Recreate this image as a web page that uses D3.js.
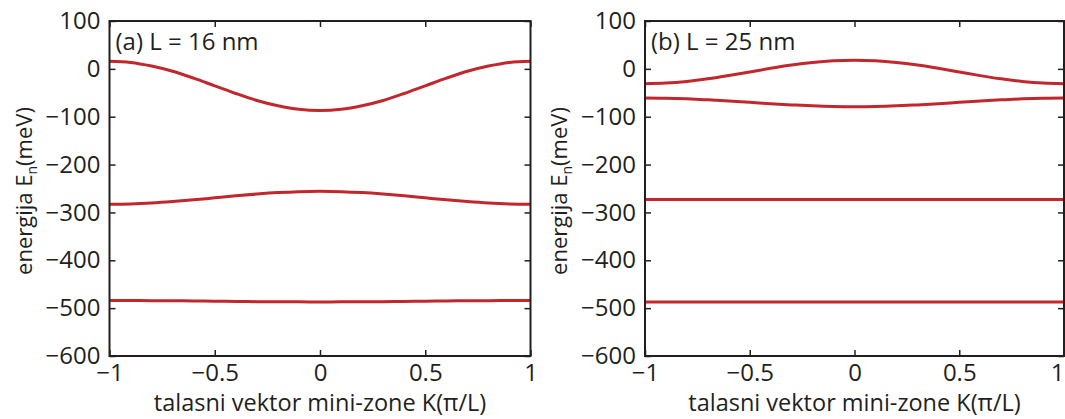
<!DOCTYPE html>
<html>
<head>
<meta charset="utf-8">
<script src="https://cdn.jsdelivr.net/npm/d3@7"></script>
<style>
  html, body { margin: 0; padding: 0; background: #fff; }
  svg { display: block; }
  text { font-family: "Open Sans", "Noto Sans", sans-serif; fill: #231f20; }
</style>
</head>
<body>
<svg id="chart" width="1065" height="419"></svg>
<script>
// ---- data ----
const K = [-1, -0.9, -0.8, -0.7, -0.6, -0.5, -0.4, -0.3, -0.2, -0.1, 0,
           0.1, 0.2, 0.3, 0.4, 0.5, 0.6, 0.7, 0.8, 0.9, 1];

// panel (a) L = 16 nm
const bandA1 = [16, 13.5, 6, -5, -19.5, -35.5, -51.5, -66, -77, -84.5, -87,
                -84.5, -77, -66, -51.5, -35.5, -19.5, -5, 6, 13.5, 16];
const bandA2 = [-283, -282.3, -280.4, -277.4, -273.7, -269.5, -265.3, -261.6, -258.6, -256.7, -256,
                -256.7, -258.6, -261.6, -265.3, -269.5, -273.7, -277.4, -280.4, -282.3, -283];
const bandA3 = [-484, -484.1, -484.3, -484.6, -485, -485.5, -486, -486.4, -486.7, -486.9, -487,
                -486.9, -486.7, -486.4, -486, -485.5, -485, -484.6, -484.3, -484.1, -484];

// panel (b) L = 25 nm
const bandB1 = [-31, -29.8, -26.3, -20.9, -14.1, -6.5, 1.1, 7.9, 13.3, 16.8, 18,
                16.8, 13.3, 7.9, 1.1, -6.5, -14.1, -20.9, -26.3, -29.8, -31];
const bandB2 = [-61, -61.4, -62.7, -64.7, -67.2, -70, -72.8, -75.3, -77.3, -78.6, -79,
                -78.6, -77.3, -75.3, -72.8, -70, -67.2, -64.7, -62.7, -61.4, -61];
const bandB3 = [-273, -273, -273, -273, -273, -273, -273, -273, -273, -273, -273,
                -273, -273, -273, -273, -273, -273, -273, -273, -273, -273];
const bandB4 = [-487, -487, -487, -487, -487, -487, -487, -487, -487, -487, -487,
                -487, -487, -487, -487, -487, -487, -487, -487, -487, -487];

const panelTitles = ["(a) L = 16 nm", "(b) L = 25 nm"];
const xTicks = [-1, -0.5, 0, 0.5, 1];
const yTicks = [100, 0, -100, -200, -300, -400, -500, -600];
const xLabel = "talasni vektor mini-zone K(\u03C0/L)";
const yLabelMain = "energija E";
const yLabelSub = "n";
const yLabelTail = "(meV)";

const panels = [
  { title: panelTitles[0], bands: [bandA1, bandA2, bandA3], left: 109.5, right: 530.5 },
  { title: panelTitles[1], bands: [bandB1, bandB2, bandB3, bandB4], left: 645, right: 1064 }
];

// ---- drawing ----
const svg = d3.select("#chart");
const plotTop = 21, plotBottom = 356;
const lineColor = "#c1272d";
const axisColor = "#231f20";
const fmt = d3.format("~g");
const W = +svg.attr("width");

panels.forEach(p => {
  const x = d3.scaleLinear().domain([-1, 1]).range([p.left, p.right]);
  const y = d3.scaleLinear().domain([-600, 100]).range([plotBottom, plotTop]);
  const g = svg.append("g");

  // curves
  const line = d3.line().x((d, i) => x(K[i])).y(d => y(d)).curve(d3.curveCatmullRom);
  p.bands.forEach(b => {
    g.append("path").datum(b).attr("d", line)
      .attr("fill", "none").attr("stroke", lineColor).attr("stroke-width", 3);
  });

  // axes with inward ticks
  const tickLen = 6;
  const ax = [
    g.append("g").attr("transform", `translate(0,${plotBottom})`)
      .call(d3.axisBottom(x).tickValues(xTicks).tickSize(-tickLen).tickPadding(8).tickFormat(fmt)),
    g.append("g").attr("transform", `translate(0,${plotTop})`)
      .call(d3.axisTop(x).tickValues(xTicks).tickSize(-tickLen).tickFormat("")),
    g.append("g").attr("transform", `translate(${p.left},0)`)
      .call(d3.axisLeft(y).tickValues(yTicks).tickSize(-tickLen).tickPadding(9).tickFormat(fmt)),
    g.append("g").attr("transform", `translate(${p.right},0)`)
      .call(d3.axisRight(y).tickValues(yTicks).tickSize(-tickLen).tickFormat(""))
  ];
  ax.forEach(a => {
    a.select(".domain").remove();
    a.selectAll(".tick line").attr("stroke", axisColor).attr("stroke-width", 1.5);
    a.selectAll(".tick text").attr("font-size", 24).attr("fill", axisColor)
      .style("font-family", '"Open Sans", sans-serif');
  });
  // keep a label that would run past the page edge inside it
  ax[0].selectAll(".tick").filter(d => x(d) + 8 > W)
    .select("text").attr("text-anchor", "end").attr("x", W - 1 - x(1));

  // frame
  g.append("rect").attr("x", p.left).attr("y", plotTop)
    .attr("width", p.right - p.left).attr("height", plotBottom - plotTop)
    .attr("fill", "none").attr("stroke", axisColor).attr("stroke-width", 2);

  // title
  g.append("text").attr("x", p.left + 6).attr("y", 50)
    .attr("font-size", 24).text(p.title);

  // x label
  g.append("text").attr("x", (p.left + p.right) / 2).attr("y", 411)
    .attr("text-anchor", "middle").attr("font-size", 23.5).text(xLabel);

  // y label
  const yl = g.append("text")
    .attr("transform", `translate(${p.left - 78},191) rotate(-90)`)
    .attr("text-anchor", "middle").attr("font-size", 22);
  yl.append("tspan").text(yLabelMain);
  yl.append("tspan").attr("font-size", 14).attr("dy", 5).text(yLabelSub);
  yl.append("tspan").attr("dy", -5).text(yLabelTail);
});
</script>
</body>
</html>
